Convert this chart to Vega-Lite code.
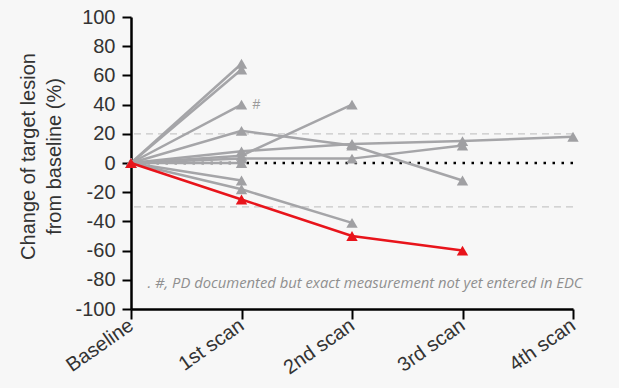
{
  "$schema": "https://vega.github.io/schema/vega-lite/v6.json",
  "width": 442,
  "height": 292,
  "autosize": "none",
  "padding": {"left": 131, "top": 17, "right": 46, "bottom": 79},
  "background": "#f7f7f7",
  "config": {"view": {"stroke": null}, "font": "Liberation Sans"},
  "datasets": {
    "series": [
      {"id": "s1", "grp": "gray", "scan": "Baseline", "step": 0, "value": 0},
      {"id": "s1", "grp": "gray", "scan": "1st scan", "step": 1, "value": 68},
      {"id": "s2", "grp": "gray", "scan": "Baseline", "step": 0, "value": 0},
      {"id": "s2", "grp": "gray", "scan": "1st scan", "step": 1, "value": 64},
      {"id": "s3", "grp": "gray", "scan": "Baseline", "step": 0, "value": 0},
      {"id": "s3", "grp": "gray", "scan": "1st scan", "step": 1, "value": 40},
      {"id": "s4", "grp": "gray", "scan": "Baseline", "step": 0, "value": 0},
      {"id": "s4", "grp": "gray", "scan": "1st scan", "step": 1, "value": 22},
      {"id": "s4", "grp": "gray", "scan": "2nd scan", "step": 2, "value": 12},
      {"id": "s4", "grp": "gray", "scan": "3rd scan", "step": 3, "value": -12},
      {"id": "s5", "grp": "gray", "scan": "Baseline", "step": 0, "value": 0},
      {"id": "s5", "grp": "gray", "scan": "1st scan", "step": 1, "value": 5},
      {"id": "s5", "grp": "gray", "scan": "2nd scan", "step": 2, "value": 40},
      {"id": "s6", "grp": "gray", "scan": "Baseline", "step": 0, "value": 0},
      {"id": "s6", "grp": "gray", "scan": "1st scan", "step": 1, "value": 8},
      {"id": "s6", "grp": "gray", "scan": "2nd scan", "step": 2, "value": 13},
      {"id": "s6", "grp": "gray", "scan": "3rd scan", "step": 3, "value": 15},
      {"id": "s6", "grp": "gray", "scan": "4th scan", "step": 4, "value": 18},
      {"id": "s7", "grp": "gray", "scan": "Baseline", "step": 0, "value": 0},
      {"id": "s7", "grp": "gray", "scan": "1st scan", "step": 1, "value": 3},
      {"id": "s7", "grp": "gray", "scan": "2nd scan", "step": 2, "value": 3},
      {"id": "s7", "grp": "gray", "scan": "3rd scan", "step": 3, "value": 12},
      {"id": "s8", "grp": "gray", "scan": "Baseline", "step": 0, "value": 0},
      {"id": "s8", "grp": "gray", "scan": "1st scan", "step": 1, "value": 0},
      {"id": "s9", "grp": "gray", "scan": "Baseline", "step": 0, "value": 0},
      {"id": "s9", "grp": "gray", "scan": "1st scan", "step": 1, "value": -12},
      {"id": "s10", "grp": "gray", "scan": "Baseline", "step": 0, "value": 0},
      {"id": "s10", "grp": "gray", "scan": "1st scan", "step": 1, "value": -18},
      {"id": "s10", "grp": "gray", "scan": "2nd scan", "step": 2, "value": -41},
      {"id": "red", "grp": "red", "scan": "Baseline", "step": 0, "value": 0},
      {"id": "red", "grp": "red", "scan": "1st scan", "step": 1, "value": -25},
      {"id": "red", "grp": "red", "scan": "2nd scan", "step": 2, "value": -50},
      {"id": "red", "grp": "red", "scan": "3rd scan", "step": 3, "value": -60}
    ],
    "refs": [
      {"kind": "dash", "value": 20},
      {"kind": "dash", "value": -30},
      {"kind": "dot", "value": 0}
    ],
    "notes": [
      {"kind": "hash", "scan": "1st scan", "value": 40, "text": "#"},
      {"kind": "foot", "scan": "2nd scan", "value": -83, "text": ". #, PD documented but exact measurement not yet entered in EDC"}
    ]
  },
  "encoding": {
    "x": {
      "field": "scan",
      "type": "ordinal",
      "scale": {"type": "point", "domain": ["Baseline", "1st scan", "2nd scan", "3rd scan", "4th scan"], "padding": 0},
      "axis": {
        "title": null,
        "domainColor": "#000000",
        "domainWidth": 2.5,
        "tickColor": "#000000",
        "tickWidth": 2,
        "tickSize": 10,
        "labelAngle": -35,
        "labelAlign": "right",
        "labelBaseline": "middle",
        "labelFontSize": 20,
        "labelColor": "#333333",
        "labelPadding": 4,
        "labelFont": "Liberation Sans"
      }
    },
    "y": {
      "field": "value",
      "type": "quantitative",
      "scale": {"domain": [-100, 100], "nice": false, "zero": false},
      "axis": {
        "title": ["Change of target lesion", "from  baseline (%)"],
        "titleFontSize": 20,
        "titleFontWeight": "normal",
        "titleColor": "#333333",
        "titleFont": "Liberation Sans",
        "titlePadding": 10,
        "titleLineHeight": 26,
        "titleY": 139,
        "values": [-100, -80, -60, -40, -20, 0, 20, 40, 60, 80, 100],
        "labelExpr": "'' + datum.value",
        "grid": false,
        "domainColor": "#000000",
        "domainWidth": 2.5,
        "tickColor": "#000000",
        "tickWidth": 2,
        "tickSize": 9,
        "labelFontSize": 20,
        "labelColor": "#333333",
        "labelPadding": 7,
        "labelFont": "Liberation Sans"
      }
    }
  },
  "layer": [
    {
      "data": {"name": "refs"},
      "transform": [{"filter": "datum.kind == 'dash'"}],
      "mark": {"type": "rule", "color": "#c8c8c8", "strokeWidth": 1.3, "strokeDash": [7, 5]},
      "encoding": {"x": null, "y": {"field": "value", "type": "quantitative"}}
    },
    {
      "data": {"name": "refs"},
      "transform": [{"filter": "datum.kind == 'dot'"}],
      "mark": {"type": "rule", "color": "#000000", "strokeWidth": 2.5, "strokeDash": [2.5, 6.5]},
      "encoding": {"x": null, "y": {"field": "value", "type": "quantitative"}}
    },
    {
      "data": {"name": "series"},
      "transform": [{"filter": "datum.grp == 'gray'"}],
      "mark": {"type": "line", "color": "#a5a5a8", "strokeWidth": 2.5,
               "point": {"shape": "triangle-up", "size": 130, "filled": true, "color": "#a0a0a3", "opacity": 1}},
      "encoding": {"detail": {"field": "id"}, "order": {"field": "step", "type": "quantitative"}}
    },
    {
      "data": {"name": "series"},
      "transform": [{"filter": "datum.grp == 'red'"}],
      "mark": {"type": "line", "color": "#e8141b", "strokeWidth": 2.5,
               "point": {"shape": "triangle-up", "size": 130, "filled": true, "color": "#e8141b", "opacity": 1}},
      "encoding": {"detail": {"field": "id"}, "order": {"field": "step", "type": "quantitative"}}
    },
    {
      "data": {"name": "notes"},
      "transform": [{"filter": "datum.kind == 'hash'"}],
      "mark": {"type": "text", "dx": 15, "dy": 0, "fontSize": 14, "color": "#9a9a9a", "font": "Liberation Sans", "align": "center", "baseline": "middle"},
      "encoding": {"text": {"field": "text"}}
    },
    {
      "data": {"name": "notes"},
      "transform": [{"filter": "datum.kind == 'foot'"}],
      "mark": {"type": "text", "dx": 13, "fontSize": 14.8, "fontStyle": "italic", "color": "#8f8f8f", "font": "Open Sans", "align": "center", "baseline": "middle"},
      "encoding": {"text": {"field": "text"}}
    }
  ]
}
